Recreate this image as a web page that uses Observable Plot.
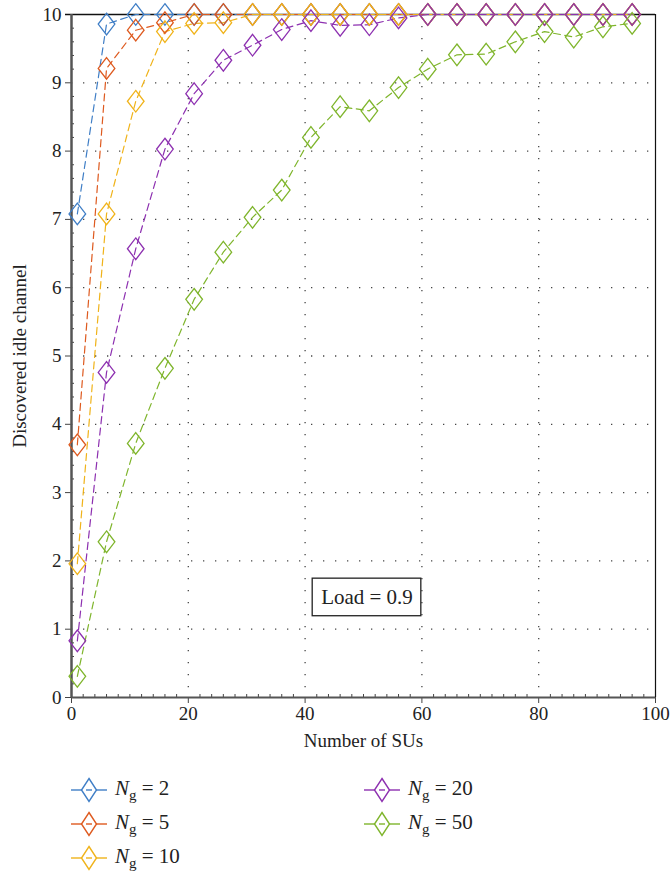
<!DOCTYPE html>
<html><head><meta charset="utf-8">
<script src="https://cdn.jsdelivr.net/npm/d3@7"></script>
<script src="https://cdn.jsdelivr.net/npm/@observablehq/plot@0.6"></script>
<style>
body{margin:0;background:#fff;font-family:"Liberation Serif",serif;}
#wrap{position:relative;width:671px;height:877px;overflow:hidden;}
.item{position:absolute;display:flex;align-items:center;height:30px;font-size:21px;color:#222;white-space:nowrap;}
.item svg{margin-right:8px;}
.item sub{font-size:15px;vertical-align:-5px;}
</style></head><body><div id="wrap"><div id="chart"></div></div>
<script>
// Data
const nUsers = [1,6,11,16,21,26,31,36,41,46,51,56,61,66,71,76,81,86,91,96];
const ng2  = [7.08,9.86,10,10,10,10,10,10,10,10,10,10,10,10,10,10,10,10,10,10];
const ng5  = [3.70,9.21,9.77,9.88,10,10,10,10,10,10,10,10,10,10,10,10,10,10,10,10];
const ng10 = [1.96,7.08,8.73,9.75,9.87,9.88,10,10,10,10,10,10,10,10,10,10,10,10,10,10];
const ng20 = [0.83,4.76,6.57,8.03,8.84,9.33,9.55,9.78,9.91,9.84,9.85,9.95,10,10,10,10,10,10,10,10];
const ng50 = [0.31,2.28,3.72,4.82,5.83,6.52,7.03,7.43,8.20,8.65,8.59,8.93,9.20,9.41,9.42,9.60,9.75,9.67,9.82,9.87];
const seriesNames = ["2","5","10","20","50"];
const seriesColors = ["#3f7ec6","#de5a1f","#f0b31a","#8d30b0","#7fb52c"];
const xTicks = [0,20,40,60,80,100];
const yTicks = [0,1,2,3,4,5,6,7,8,9,10];
const xLabel = "Number of SUs";
const yLabel = "Discovered idle channel";
const loadBox = [{x1:41.3, x2:59.9, y1:1.19, y2:1.74, label:"Load = 0.9"}];

const seriesValues = [ng2, ng5, ng10, ng20, ng50];
const rows = seriesNames.flatMap((g, k) => nUsers.map((x, i) => ({x, y: seriesValues[k][i], g})));

const diamond = {draw(ctx, size){ const r = Math.sqrt(size/Math.PI); const h = r*2.4, w = r*1.85;
  ctx.moveTo(0,-h); ctx.lineTo(w,0); ctx.lineTo(0,h); ctx.lineTo(-w,0); ctx.closePath(); }};

const minorX = d3.range(0,101,2).filter(v => v % 20 !== 0);
const minorY = d3.range(0,10.01,0.2).map(v => +v.toFixed(1)).filter(v => Math.abs(v - Math.round(v)) > 1e-6);
const dots = {stroke:"#333", strokeOpacity:0.9, strokeWidth:1.3, strokeDasharray:"1.3,10.7"};

const chart = Plot.plot({
  width: 671, height: 760,
  marginLeft: 71, marginRight: 16, marginTop: 14, marginBottom: 63,
  style: {fontFamily: "Liberation Serif, serif", fontSize: "19px", color: "#222", background: "#fff"},
  x: {domain: [0,100]},
  y: {domain: [0,10]},
  color: {domain: seriesNames, range: seriesColors},
  marks: [
    Plot.gridX({ticks: [20,40,60,80], ...dots}),
    Plot.gridY({ticks: [1,2,3,4,5,6,7,8,9], ...dots}),
    Plot.axisX(minorX, {tickSize: -3, tickFormat: () => "", label: null, stroke: "#444"}),
    Plot.axisY(minorY, {tickSize: -3, tickFormat: () => "", label: null, stroke: "#444"}),
    Plot.axisX({ticks: xTicks, tickSize: 6, tickPadding: 3, fontSize: 19, stroke: "#444",
      label: xLabel, labelAnchor: "center", labelArrow: "none", labelOffset: 49, fontSize: 19}),
    Plot.axisY({ticks: yTicks, tickSize: 6, tickPadding: 4, fontSize: 19, stroke: "#444",
      label: yLabel, labelAnchor: "center", labelArrow: "none", labelOffset: 59}),
    Plot.ruleY([10], {stroke: "#111", strokeWidth: 1.5, insetLeft: -6}),
    Plot.ruleX([100], {stroke: "#111", strokeWidth: 1.2}),
    Plot.ruleX([0], {stroke: "#555", strokeWidth: 2.5}),
    Plot.ruleY([0], {stroke: "#555", strokeWidth: 2}),
    Plot.rect(loadBox, {x1: "x1", x2: "x2", y1: "y1", y2: "y2", fill: "#fff", stroke: "#222", strokeWidth: 1.3}),
    Plot.text(loadBox, {x: d => (d.x1+d.x2)/2, y: d => (d.y1+d.y2)/2, text: "label", fontSize: 21, fill: "#222"}),
    Plot.line(rows, {x: "x", y: "y", z: "g", stroke: "g", strokeWidth: 1.2, strokeDasharray: "7,4.5"}),
    Plot.dot(rows, {x: "x", y: "y", stroke: "g", fill: "none", symbol: diamond, r: 4.5, strokeWidth: 1.3})
  ]
});
document.getElementById("chart").appendChild(chart);

// Legend
const wrap = document.getElementById("wrap");
const legendPos = [[71,775],[71,809],[71,843],[364,775],[364,809]];
seriesNames.forEach((g, k) => {
  const c = seriesColors[k];
  const div = document.createElement("div");
  div.className = "item";
  div.style.left = legendPos[k][0] + "px";
  div.style.top = legendPos[k][1] + "px";
  div.innerHTML = `<svg width="36" height="30"><g stroke="${c}" stroke-width="1.4" fill="none">
    <line x1="0" y1="15" x2="11" y2="15"/><line x1="25" y1="15" x2="36" y2="15"/><line x1="15" y1="15" x2="21" y2="15"/>
    <path d="M18,3.5L25.5,15L18,26.5L10.5,15Z"/></g></svg><span><i>N</i><sub>g</sub> = ${g}</span>`;
  wrap.appendChild(div);
});
</script></body></html>
